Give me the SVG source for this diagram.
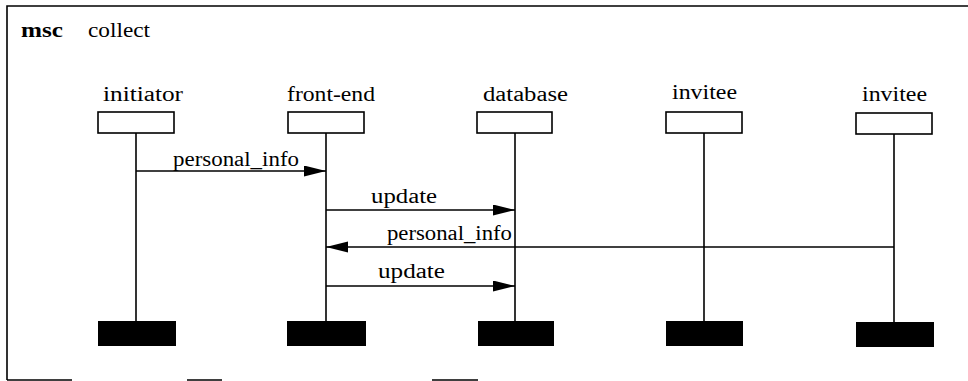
<svg xmlns="http://www.w3.org/2000/svg" width="968" height="381" viewBox="0 0 968 381">
<style>
.t{font-family:"Liberation Serif","Times New Roman",serif;font-size:20px;fill:#000}
.b{font-weight:bold}
.frame{stroke:#000;stroke-width:1.6;fill:none}
.head{fill:#fff;stroke:#000;stroke-width:1.6}
.end{fill:#000;stroke:none}
.life{stroke:#000;stroke-width:1.6}
.msg{stroke:#000;stroke-width:1.5;fill:none}
</style>
<defs>
<marker id="ah" markerWidth="23" markerHeight="12" refX="22" refY="5.5" orient="auto" markerUnits="userSpaceOnUse">
<path d="M0,0 L22,5.5 L0,11 Z" fill="#000"/>
</marker>
</defs>
<rect width="968" height="381" fill="#fff"/>
<g id="frame">
<path class="frame" d="M7,380 L7,6 L968,6"/>
<path class="frame" d="M7,380 L72,380 M187,380 L222,380 M432,380 L478,380"/>
<text class="t b" x="21" y="37" textLength="42" lengthAdjust="spacingAndGlyphs">msc</text>
<text class="t" x="88" y="37" textLength="62" lengthAdjust="spacingAndGlyphs">collect</text>
</g>
<g id="initiator">
<text class="t" x="103" y="101" textLength="80" lengthAdjust="spacingAndGlyphs">initiator</text>
<rect class="head" x="98" y="112" width="76" height="21"/>
<line class="life" x1="136" y1="133" x2="136" y2="321"/>
<rect class="end" x="98" y="321" width="78" height="25"/>
</g>
<g id="front-end">
<text class="t" x="287" y="101" textLength="88" lengthAdjust="spacingAndGlyphs">front-end</text>
<rect class="head" x="288" y="112" width="76" height="21"/>
<line class="life" x1="326" y1="133" x2="326" y2="321"/>
<rect class="end" x="287" y="321" width="79" height="25"/>
</g>
<g id="database">
<text class="t" x="483" y="101" textLength="85" lengthAdjust="spacingAndGlyphs">database</text>
<rect class="head" x="477" y="112" width="75" height="21"/>
<line class="life" x1="515" y1="133" x2="515" y2="321"/>
<rect class="end" x="478" y="321" width="76" height="25"/>
</g>
<g id="invitee1">
<text class="t" x="672" y="99" textLength="65" lengthAdjust="spacingAndGlyphs">invitee</text>
<rect class="head" x="666" y="112" width="76" height="21"/>
<line class="life" x1="704" y1="133" x2="704" y2="321"/>
<rect class="end" x="666" y="321" width="77" height="25"/>
</g>
<g id="invitee2">
<text class="t" x="862" y="101" textLength="65" lengthAdjust="spacingAndGlyphs">invitee</text>
<rect class="head" x="856" y="113" width="76" height="21"/>
<line class="life" x1="894" y1="134" x2="894" y2="322"/>
<rect class="end" x="856" y="322" width="78" height="25"/>
</g>
<g id="connectors">
<line class="msg" x1="136" y1="171" x2="326" y2="171" marker-end="url(#ah)"/>
<text class="t" x="173" y="166" textLength="126" lengthAdjust="spacingAndGlyphs">personal_info</text>
<line class="msg" x1="326" y1="210" x2="515" y2="210" marker-end="url(#ah)"/>
<text class="t" x="371" y="203" textLength="66" lengthAdjust="spacingAndGlyphs">update</text>
<line class="msg" x1="894" y1="247" x2="326" y2="247" marker-end="url(#ah)"/>
<text class="t" x="387" y="240" textLength="125" lengthAdjust="spacingAndGlyphs">personal_info</text>
<line class="msg" x1="326" y1="286" x2="515" y2="286" marker-end="url(#ah)"/>
<text class="t" x="378" y="278" textLength="67" lengthAdjust="spacingAndGlyphs">update</text>
</g>
</svg>
